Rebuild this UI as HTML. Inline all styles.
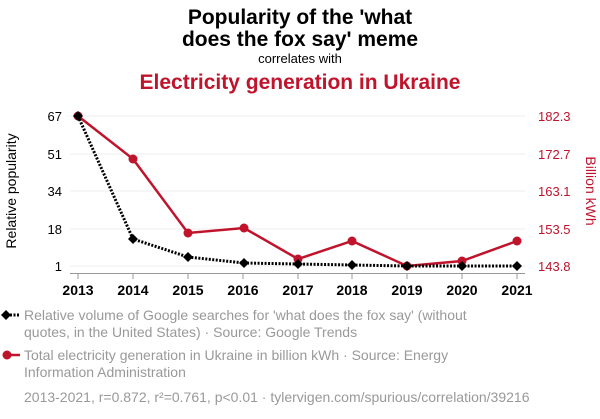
<!DOCTYPE html>
<html><head><meta charset="utf-8"><style>
body{margin:0;background:#fff;width:600px;height:414px;overflow:hidden;font-family:"Liberation Sans",sans-serif}
</style></head><body>
<svg width="600" height="414" xmlns="http://www.w3.org/2000/svg" font-family="Liberation Sans, sans-serif">
<text x="300" y="24" text-anchor="middle" font-size="21" font-weight="bold" fill="#000">Popularity of the 'what</text>
<text x="300" y="46" text-anchor="middle" font-size="21" font-weight="bold" fill="#000">does the fox say' meme</text>
<text x="300" y="63" text-anchor="middle" font-size="13" fill="#000">correlates with</text>
<text x="300" y="89" text-anchor="middle" font-size="21" font-weight="bold" fill="#c0142c">Electricity generation in Ukraine</text>
<g stroke="#eee" stroke-width="1">
<line x1="70" x2="525" y1="116" y2="116"/><line x1="70" x2="525" y1="154" y2="154"/><line x1="70" x2="525" y1="191" y2="191"/><line x1="70" x2="525" y1="229" y2="229"/><line x1="70" x2="525" y1="266" y2="266"/>
</g>
<line x1="70" x2="525" y1="273.5" y2="273.5" stroke="#999"/>
<g stroke="#999"><line x1="78" x2="78" y1="273" y2="279"/><line x1="133" x2="133" y1="273" y2="279"/><line x1="188" x2="188" y1="273" y2="279"/><line x1="243" x2="243" y1="273" y2="279"/><line x1="298" x2="298" y1="273" y2="279"/><line x1="352" x2="352" y1="273" y2="279"/><line x1="407" x2="407" y1="273" y2="279"/><line x1="462" x2="462" y1="273" y2="279"/><line x1="517" x2="517" y1="273" y2="279"/></g>
<g font-size="14" font-weight="bold" text-anchor="middle" fill="#000">
<text x="78" y="295">2013</text><text x="133" y="295">2014</text><text x="188" y="295">2015</text><text x="243" y="295">2016</text><text x="298" y="295">2017</text><text x="352" y="295">2018</text><text x="407" y="295">2019</text><text x="462" y="295">2020</text><text x="517" y="295">2021</text>
</g>
<g font-size="13" text-anchor="end" fill="#000">
<text x="62" y="121">67</text><text x="62" y="159">51</text><text x="62" y="196">34</text><text x="62" y="234">18</text><text x="62" y="271">1</text>
</g>
<g font-size="13" fill="#c0142c">
<text x="538" y="121">182.3</text><text x="538" y="159">172.7</text><text x="538" y="196">163.1</text><text x="538" y="234">153.5</text><text x="538" y="271">143.8</text>
</g>
<text transform="translate(16,191) rotate(-90)" text-anchor="middle" font-size="14" fill="#000">Relative popularity</text>
<text transform="translate(586,191) rotate(90)" text-anchor="middle" font-size="14" fill="#c0142c">Billion kWh</text>
<polyline fill="none" stroke="#c0142c" stroke-width="2.5" points="78,116 133,159 188,233 244,228 298,259 352,241 407,266 462,261 517,241"/>
<g fill="#c0142c"><circle cx="78" cy="116" r="4.5"/><circle cx="133" cy="159" r="4.5"/><circle cx="188" cy="233" r="4.5"/><circle cx="244" cy="228" r="4.5"/><circle cx="298" cy="259" r="4.5"/><circle cx="352" cy="241" r="4.5"/><circle cx="407" cy="266" r="4.5"/><circle cx="462" cy="261" r="4.5"/><circle cx="517" cy="241" r="4.5"/></g>
<polyline fill="none" stroke="#000" stroke-width="3" stroke-dasharray="2,1.5" points="78,116 133,239 188,257 244,263 298,264 352,265 407,266 462,266 517,266"/>
<g fill="#000">
<path d="M78,111l5,5l-5,5l-5,-5z"/><path d="M133,234l5,5l-5,5l-5,-5z"/><path d="M188,252l5,5l-5,5l-5,-5z"/><path d="M244,258l5,5l-5,5l-5,-5z"/><path d="M298,259l5,5l-5,5l-5,-5z"/><path d="M352,260l5,5l-5,5l-5,-5z"/><path d="M407,261l5,5l-5,5l-5,-5z"/><path d="M462,261l5,5l-5,5l-5,-5z"/><path d="M517,261l5,5l-5,5l-5,-5z"/>
</g>
<line x1="3" x2="20" y1="315" y2="315" stroke="#000" stroke-width="3" stroke-dasharray="2,1.5"/>
<path d="M6,310l5,5l-5,5l-5,-5z" fill="#000"/>
<g font-size="14" fill="#999">
<text x="24" y="320">Relative volume of Google searches for 'what does the fox say' (without</text>
<text x="24" y="337">quotes, in the United States) · Source: Google Trends</text>
<text x="24" y="360">Total electricity generation in Ukraine in billion kWh · Source: Energy</text>
<text x="24" y="377">Information Administration</text>
<text x="24" y="402">2013-2021, r=0.872, r²=0.761, p&lt;0.01 · tylervigen.com/spurious/correlation/39216</text>
</g>
<line x1="3" x2="20" y1="355" y2="355" stroke="#c0142c" stroke-width="2.5"/>
<circle cx="7" cy="355" r="4.5" fill="#c0142c"/>
</svg>
</body></html>
